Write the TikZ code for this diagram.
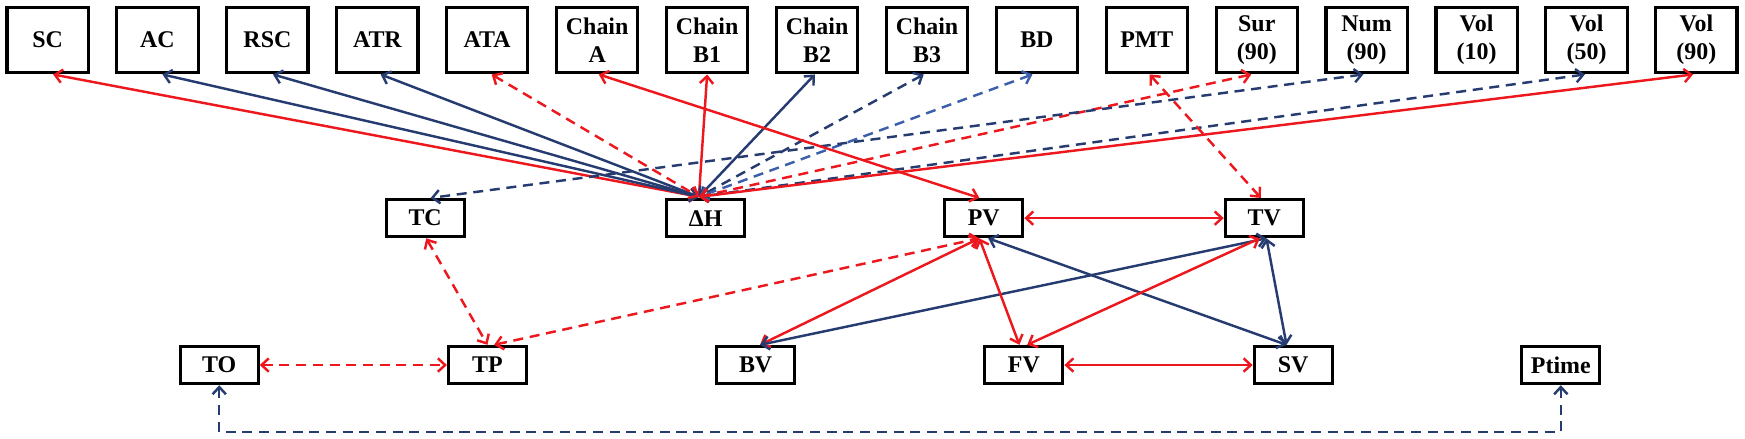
\documentclass[tikz,border=0pt]{standalone}
\usepackage{fontspec}
\setmainfont{Liberation Serif}
\usetikzlibrary{arrows.meta}
\definecolor{cred}{RGB}{236,24,30}
\definecolor{cnavy}{RGB}{38,60,112}
\definecolor{clblue}{RGB}{60,95,170}
\begin{document}
\begin{tikzpicture}[x=1pt,y=-1pt,
  box/.style={draw=black,line width=2.8pt,fill=white,inner sep=0pt,align=center,
    font=\bfseries\fontsize{21.5}{25}\selectfont},
  tbox/.style={box,minimum width=73pt,minimum height=59pt},
  mbox/.style={box,minimum width=70pt,minimum height=33.5pt},
  con/.style={line width=2.2pt,{Straight Barb[length=6.5pt,width=12pt]}-{Straight Barb[length=6.5pt,width=12pt]}},
  rs/.style={con,draw=cred},
  rd/.style={con,draw=cred,dash pattern=on 9pt off 6pt},
  ns/.style={con,draw=cnavy},
  nd/.style={con,draw=cnavy,dash pattern=on 9pt off 6pt},
  ld/.style={con,draw=clblue,dash pattern=on 9pt off 6pt}]
\useasboundingbox[fill=white] (0,0) rectangle (1568,394);
% top row
\node[tbox] (SC)  at (42.75,36) {SC};
\node[tbox] (AC)  at (141.5,36) {AC};
\node[tbox] (RSC) at (240.3,36) {RSC};
\node[tbox] (ATR) at (339.1,36) {ATR};
\node[tbox] (ATA) at (437.8,36) {ATA};
\node[tbox] (CA)  at (536.6,36) {Chain\\A};
\node[tbox] (CB1) at (635.4,36) {Chain\\B1};
\node[tbox] (CB2) at (734.2,36) {Chain\\B2};
\node[tbox] (CB3) at (833,36) {Chain\\B3};
\node[tbox] (BD)  at (931.7,36) {BD};
\node[tbox] (PMT) at (1030.5,36) {PMT};
\node[tbox] (Sur) at (1129.3,36) {Sur\\(90)};
\node[tbox] (Num) at (1228,36) {Num\\(90)};
\node[tbox] (V10) at (1326.8,36) {Vol\\(10)};
\node[tbox] (V50) at (1425.6,36) {Vol\\(50)};
\node[tbox] (V90) at (1524.3,36) {Vol\\(90)};
% middle row
\node[mbox] (TC) at (382,196) {TC};
\node[mbox] (DH) at (634,196) {ΔH};
\node[mbox] (PV) at (884,196) {PV};
\node[mbox] (TV) at (1136,196) {TV};
% bottom row
\node[mbox] (TO) at (197,328) {TO};
\node[mbox] (TP) at (438,328) {TP};
\node[mbox] (BV) at (679,328) {BV};
\node[mbox] (FV) at (920,328) {FV};
\node[mbox] (SV) at (1162,328) {SV};
\node[mbox] (Pt) at (1402.5,328) {Ptime};
% hub at Delta H
\coordinate (dh) at ([xshift=-6pt,yshift=1pt]DH.north);
\draw[rs] ([xshift=5pt]SC.south) -- (dh);
\draw[ns] ([xshift=4.5pt]AC.south) -- (dh);
\draw[ns] ([xshift=5pt]RSC.south) -- (dh);
\draw[ns] ([xshift=3pt]ATR.south) -- (dh);
\draw[rd] ([xshift=4pt]ATA.south) -- (dh);
\draw[rs] (CB1.south) -- (dh);
\draw[ns] ([xshift=-2pt]CB2.south) -- (dh);
\draw[nd] ([xshift=-3pt]CB3.south) -- (dh);
\draw[ld] ([xshift=-4pt]BD.south) -- (dh);
\draw[rd] ([xshift=-5pt]Sur.south) -- (dh);
\draw[nd] ([xshift=-1.5pt]V50.south) -- (dh);
\draw[rs] ([xshift=-3pt]V90.south) -- (dh);
% other top links
\draw[nd] ([xshift=-3pt]Num.south) -- ([xshift=5pt]TC.north);
\draw[rs] ([xshift=1.5pt]CA.south) -- ([xshift=-4pt]PV.north);
\draw[rd] ([xshift=2.5pt]PMT.south) -- ([xshift=-3pt]TV.north);
% middle / bottom links
\draw[rs] (PV.east) -- (TV.west);
\draw[rd] ([xshift=1pt]TC.south) -- (TP.north);
\draw[rd] (TO.east) -- (TP.west);
\draw[rd] ([xshift=6pt]TP.north) -- ([xshift=-4pt]PV.south);
\draw[rs] ([xshift=4pt]BV.north) -- ([xshift=-4pt]PV.south);
\draw[ns] ([xshift=4pt]BV.north) -- ([xshift=2pt]TV.south);
\draw[rs] ([xshift=-4pt]PV.south) -- ([xshift=-4pt]FV.north);
\draw[ns] ([xshift=4pt]PV.south) -- ([xshift=-6pt]SV.north);
\draw[rs] ([xshift=3pt]FV.north) -- ([xshift=-4pt]TV.south);
\draw[ns] ([xshift=2pt]TV.south) -- ([xshift=-6pt]SV.north);
\draw[rs] (FV.east) -- (SV.west);
\coordinate (bl) at (197,388);
\draw[nd] (TO.south) |- (bl) -| (Pt.south);
\end{tikzpicture}
\end{document}
